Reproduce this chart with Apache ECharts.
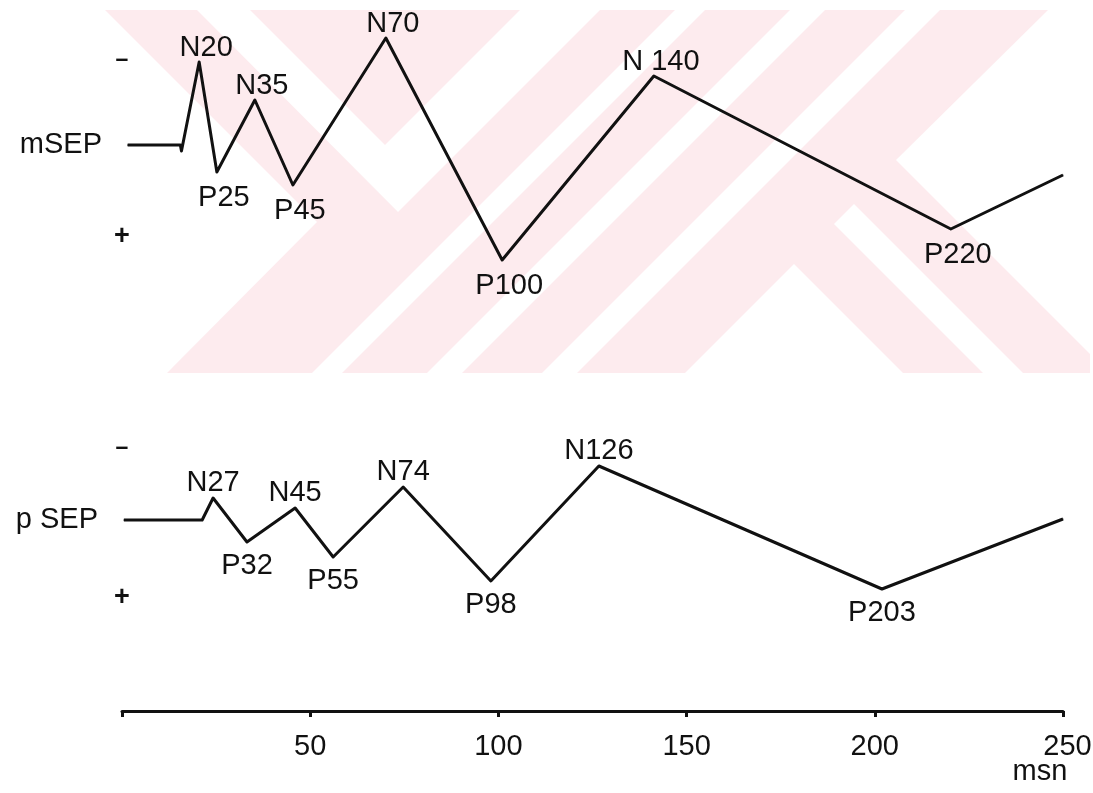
<!DOCTYPE html>
<html>
<head>
<meta charset="utf-8">
<script src="https://cdn.jsdelivr.net/npm/echarts@6/dist/echarts.min.js"></script>
<style>
  html, body { margin: 0; padding: 0; background: #ffffff; }
  #chart { width: 1093px; height: 793px; }
</style>
</head>
<body>
<div id="chart"></div>
<script>
// ---- data (time in ms, amplitude in arbitrary units; N peaks drawn upward) ----
const msTime  = [1.5, 15.5, 15.8, 20.5, 25.2, 35.3, 45.4, 70.1, 101.0, 141.3, 220.2, 250];
const msAmp   = [0, 0, -0.6, 8.3, -2.7, 4.5, -4.0, 10.7, -11.5, 6.9, -8.4, -3.0];
const msLabel = ['', '', '', 'N20', 'P25', 'N35', 'P45', 'N70', 'P100', 'N 140', 'P220', ''];

const psTime  = [0.5, 21.3, 24.2, 33.2, 46.0, 56.1, 74.7, 98.0, 126.7, 201.9, 250];
const psAmp   = [0, 0, 2.2, -2.2, 1.2, -3.7, 3.3, -6.1, 5.4, -6.9, 0.1];
const psLabel = ['', '', 'N27', 'P32', 'N45', 'P55', 'N74', 'P98', 'N126', 'P203', ''];

const traceNames = ['mSEP', 'p SEP'];
const polarityMarks = ['–', '+'];
const msPolarityAt = [8.5, -9.2];
const psPolarityAt = [7.2, -7.8];
const timeUnit = 'msn';

// ---- styling ----
const FONT = 'Liberation Sans';
const FS = 29;
const INK = '#111111';
const PINK = '#fdebee';

function buildData(t, a, lbl, dx, dTop, dBottom) {
  return t.map((x, i) => {
    const name = lbl[i];
    const item = { value: [x, a[i]], name: name };
    if (name) {
      const up = name.charAt(0) === 'N';
      item.label = {
        show: true,
        position: up ? 'top' : 'bottom',
        distance: up ? dTop : dBottom,
        offset: [dx, 0]
      };
    } else {
      item.label = { show: false };
    }
    return item;
  });
}

// background watermark of the scanned page (light pink diagonal pattern)
const whiteShapes = [
  [[105, 10], [317, 222], [167, 373], [105, 373]],
  [[197, 10], [398, 212], [600, 10], [520, 10], [385, 145], [250, 10]],
  [[675, 10], [705, 10], [342, 373], [312, 373]],
  [[790, 10], [825, 10], [462, 373], [427, 373]],
  [[905, 10], [940, 10], [577, 373], [542, 373]],
  [[1048, 10], [1090, 10], [1090, 354], [896, 160]],
  [[854, 204], [1023, 373], [983, 373], [834, 224]],
  [[794, 264], [903, 373], [685, 373]]
];
const watermark = [
  { type: 'rect', z: -10, silent: true, shape: { x: 105, y: 10, width: 985, height: 363 }, style: { fill: PINK } }
].concat(whiteShapes.map(pts => ({
  type: 'polygon', z: -9, silent: true, shape: { points: pts }, style: { fill: '#ffffff' }
})));

const labelText = { fontFamily: FONT, fontSize: FS, color: INK };

function hiddenX(gi) {
  return { type: 'value', gridIndex: gi, min: 0, max: 250, show: false };
}
function polarityAxis(gi, min, max, at) {
  return {
    type: 'value', gridIndex: gi, min: min, max: max, position: 'left',
    axisLine: { show: false }, axisTick: { show: false }, splitLine: { show: false },
    axisLabel: Object.assign({
      customValues: at, margin: 0, align: 'center',
      formatter: v => (v > 0 ? '{d|' + polarityMarks[0] + '}' : '{p|' + polarityMarks[1] + '}'),
      rich: {
        d: { fontFamily: FONT, fontSize: 23, fontWeight: 'bold', color: INK },
        p: { fontFamily: FONT, fontSize: 27, fontWeight: 'bold', color: INK }
      }
    }, labelText)
  };
}
function nameAxis(gi, min, max, name, margin) {
  return {
    type: 'value', gridIndex: gi, min: min, max: max, position: 'left',
    axisLine: { show: false }, axisTick: { show: false }, splitLine: { show: false },
    axisLabel: Object.assign({ customValues: [0], margin: margin, formatter: () => name }, labelText)
  };
}

const gridBase = { left: 122, right: 30, containLabel: false, outerBoundsMode: 'none' };

const option = {
  backgroundColor: '#ffffff',
  animation: false,
  textStyle: { fontFamily: FONT },
  graphic: {
    elements: watermark.concat([{
      type: 'text', z: 10, x: 1040, y: 772,
      style: { text: timeUnit, align: 'center', verticalAlign: 'middle',
        font: FS + 'px "' + FONT + '"', fill: INK }
    }])
  },
  grid: [
    Object.assign({ top: 25, height: 250 }, gridBase),
    Object.assign({ top: 420, height: 200 }, gridBase),
    Object.assign({ top: 700, height: 11 }, gridBase)
  ],
  xAxis: [
    hiddenX(0),
    hiddenX(1),
    {
      type: 'value', gridIndex: 2, min: 0, max: 250, interval: 50, position: 'bottom',
      axisLine: { show: true, lineStyle: { color: INK, width: 3 } },
      axisTick: { show: true, length: 6, lineStyle: { color: INK, width: 3 } },
      splitLine: { show: false },
      axisLabel: Object.assign({
        margin: 21,
        formatter: v => (v === 0 ? '' : (v === 250 ? '{r|' + v + '}' : String(v))),
        rich: { r: { fontFamily: FONT, fontSize: FS, color: INK, padding: [0, 0, 0, 9] } }
      }, labelText)
    }
  ],
  yAxis: [
    polarityAxis(0, -13, 12, msPolarityAt),
    nameAxis(0, -13, 12, traceNames[0], 20),
    polarityAxis(1, -10, 10, psPolarityAt),
    nameAxis(1, -10, 10, traceNames[1], 24),
    { type: 'value', gridIndex: 2, min: 0, max: 1, show: false }
  ],
  series: [
    {
      type: 'line', xAxisIndex: 0, yAxisIndex: 0,
      data: buildData(msTime, msAmp, msLabel, 7, -1, 11),
      symbol: 'circle', symbolSize: 1, showSymbol: true,
      itemStyle: { color: INK },
      lineStyle: { color: INK, width: 3, join: 'round' },
      label: Object.assign({ formatter: p => p.name }, labelText),
      z: 5
    },
    {
      type: 'line', xAxisIndex: 1, yAxisIndex: 2,
      data: buildData(psTime, psAmp, psLabel, 0, 0, 9),
      symbol: 'circle', symbolSize: 1, showSymbol: true,
      itemStyle: { color: INK },
      lineStyle: { color: INK, width: 3, join: 'round' },
      label: Object.assign({ formatter: p => p.name }, labelText),
      z: 5
    }
  ]
};

const chart = echarts.init(document.getElementById('chart'), null, { renderer: 'canvas' });
chart.setOption(option);
</script>
</body>
</html>
